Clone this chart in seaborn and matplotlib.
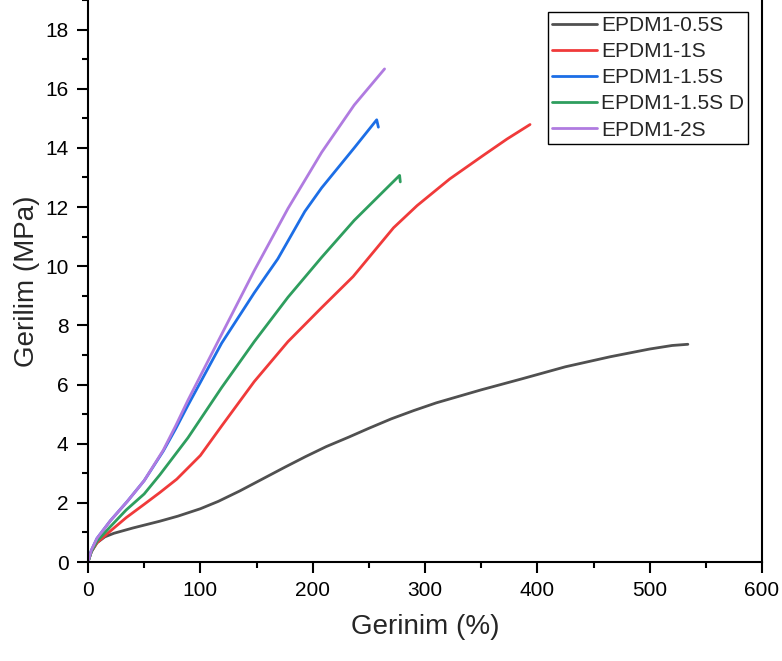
import numpy as np
import pandas as pd
import matplotlib
matplotlib.use("Agg")
import matplotlib.pyplot as plt
import seaborn as sns
from matplotlib.ticker import MultipleLocator

sns.set_theme(style="white")
plt.rcParams['font.family'] = ['Liberation Sans', 'DejaVu Sans']

labels = ["EPDM1-0.5S", "EPDM1-1S", "EPDM1-1.5S", "EPDM1-1.5S D", "EPDM1-2S"]
colors = ["#505050", "#f03a3a", "#1c6ee6", "#2e9e5e", "#b07be0"]

x_05 = [0, 3, 8, 15, 23, 40, 64, 80, 100, 116, 135, 155, 175, 193.5, 212, 232, 250, 270, 290, 310, 350, 387, 425, 465, 500, 520, 534]
y_05 = [0, 0.35, 0.65, 0.85, 0.97, 1.15, 1.38, 1.55, 1.8, 2.05, 2.4, 2.8, 3.2, 3.56, 3.9, 4.22, 4.52, 4.84, 5.12, 5.38, 5.82, 6.2, 6.6, 6.94, 7.2, 7.32, 7.36]

x_1 = [0, 3, 8, 20, 34, 50, 64, 79, 100, 119, 148, 178, 208, 236, 248, 260, 272, 293, 322, 352, 373, 393.5]
y_1 = [0, 0.35, 0.65, 1.05, 1.5, 1.95, 2.35, 2.8, 3.6, 4.6, 6.1, 7.45, 8.6, 9.65, 10.2, 10.75, 11.3, 12.05, 12.95, 13.75, 14.3, 14.79]

x_15 = [0, 3, 8, 20, 35, 50, 67, 78, 89, 119, 148, 158, 169, 178, 193, 208, 237, 257, 258.5]
y_15 = [0, 0.4, 0.8, 1.4, 2.05, 2.75, 3.75, 4.5, 5.3, 7.4, 9.1, 9.65, 10.25, 10.85, 11.85, 12.65, 14.0, 14.95, 14.7]

x_15d = [0, 3, 8, 20, 34, 50, 64, 76, 89, 104, 119, 148, 178, 208, 237, 267, 277.4, 278]
y_15d = [0, 0.35, 0.7, 1.2, 1.76, 2.3, 2.95, 3.55, 4.2, 5.05, 5.9, 7.45, 8.95, 10.3, 11.55, 12.68, 13.07, 12.85]

x_2 = [0, 3, 8, 20, 35, 50, 67, 78, 89, 119, 148, 178, 208, 237, 264]
y_2 = [0, 0.4, 0.8, 1.4, 2.05, 2.75, 3.78, 4.6, 5.47, 7.7, 9.85, 11.95, 13.85, 15.45, 16.67]

xs = [x_05, x_1, x_15, x_15d, x_2]
ys = [y_05, y_1, y_15, y_15d, y_2]

frames = []
for lab, x, y in zip(labels, xs, ys):
    frames.append(pd.DataFrame({"x": x, "y": y, "series": lab}))
df = pd.concat(frames, ignore_index=True)

fig = plt.figure(figsize=(7.82, 6.61), dpi=100)
ax = fig.add_axes([88/782, 99/661, (762-88)/782, 562/661])

sns.lineplot(data=df, x="x", y="y", hue="series", hue_order=labels,
             palette=colors, sort=False, estimator=None, units="series",
             linewidth=2.0, ax=ax)

ax.set_xlim(0, 600)
ax.set_ylim(0, 19)
ax.xaxis.set_major_locator(MultipleLocator(100))
ax.xaxis.set_minor_locator(MultipleLocator(50))
ax.yaxis.set_major_locator(MultipleLocator(2))
ax.yaxis.set_minor_locator(MultipleLocator(1))
ax.tick_params(axis="both", which="major", direction="out", length=8, width=1.5,
               labelsize=15, bottom=True, left=True, top=False, right=False, colors="black", pad=6)
ax.tick_params(axis="both", which="minor", direction="out", length=4.5, width=1.5,
               bottom=True, left=True, top=False, right=False, colors="black")
for s in ["left", "bottom", "right"]:
    ax.spines[s].set_visible(True)
    ax.spines[s].set_color("black")
    ax.spines[s].set_linewidth(1.5)
ax.spines["top"].set_visible(False)

ax.set_xlabel("Gerinim (%)", fontsize=20, labelpad=10)
ax.set_ylabel("Gerilim (MPa)", fontsize=20, labelpad=4)

leg = ax.legend(loc="upper right", bbox_to_anchor=(748/782, 649/661), bbox_transform=fig.transFigure,
                fontsize=15, frameon=True, fancybox=False, handlelength=2.15,
                labelspacing=0.34, borderpad=0.2, handletextpad=0.2, borderaxespad=0)
leg.get_frame().set_edgecolor("black")
leg.get_frame().set_linewidth(1.0)
leg.get_frame().set_alpha(1)

fig.savefig("out.png", dpi=100)
